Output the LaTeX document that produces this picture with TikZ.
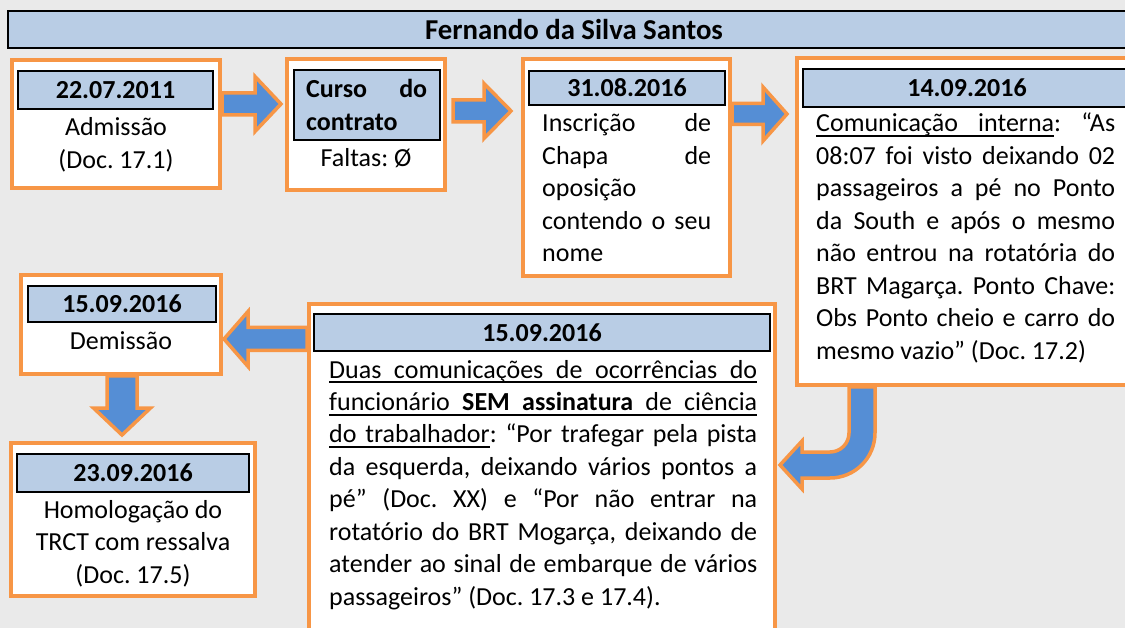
\documentclass[tikz,border=0pt]{standalone}
\usepackage{fontspec}
\setmainfont{Carlito}
\usetikzlibrary{calc}

\definecolor{fundo}{RGB}{234,234,234}
\definecolor{laranja}{RGB}{247,150,70}
\definecolor{azulclaro}{RGB}{185,205,229}
\definecolor{azulseta}{RGB}{85,142,213}

\newcommand{\corpo}{\fontsize{26}{32.5}\selectfont\frenchspacing}
\newcommand{\linha}[1]{\hbox to\hsize{#1}}
\newcommand{\linhasub}[1]{\hbox to\hsize{\rlap{\rule[-5pt]{\hsize}{1.6pt}}#1}}
% sublinhado de uma palavra e espaco sublinhado
\newcommand{\sub}[1]{\setbox0\hbox{#1}\rlap{\rule[-5pt]{\wd0}{1.6pt}}\box0}
\newcommand{\esp}{\leaders\hrule height -3.4pt depth 5pt\hskip\fontdimen2\font plus\fontdimen3\font minus\fontdimen4\font}

% seta horizontal: inicio, ponta, comprimento da ponta, meia haste, meia ponta
\newcommand{\setah}[5]{%
  \draw[seta] ($(#1)+(0,#4)$) -- ($(#2)+({-(#3)},#4)$) -- ($(#2)+({-(#3)},#5)$) -- (#2)
    -- ($(#2)+({-(#3)},{-(#5)})$) -- ($(#2)+({-(#3)},{-(#4)})$) -- ($(#1)+(0,{-(#4)})$) -- cycle;}
% seta vertical
\newcommand{\setav}[5]{%
  \draw[seta] ($(#1)+(#4,0)$) -- ($(#2)+(#4,{-(#3)})$) -- ($(#2)+(#5,{-(#3)})$) -- (#2)
    -- ($(#2)+({-(#5)},{-(#3)})$) -- ($(#2)+({-(#4)},{-(#3)})$) -- ($(#1)+({-(#4)},0)$) -- cycle;}

\tikzset{
  caixa/.style={draw=laranja, line width=4pt, fill=white, inner sep=0pt},
  cabecalho/.style={draw=black, line width=2pt, fill=azulclaro, inner sep=0pt, font=\corpo\bfseries},
  texto/.style={inner sep=0pt, anchor=base west},
  centrado/.style={inner sep=0pt, anchor=base},
  seta/.style={draw=laranja, line width=3.5pt, fill=azulseta, line join=miter},
}

\begin{document}
\begin{tikzpicture}[x=1pt, y=-1pt, font=\corpo]
  \useasboundingbox (0,0) rectangle (1125,628);
  \clip (0,0) rectangle (1125,628);
  \fill[fundo] (0,0) rectangle (1125,628);

  % Titulo
  \node[cabecalho, font=\fontsize{28.8}{34}\selectfont\bfseries, minimum width=1132pt, minimum height=37pt] (titulo) at (574,29.5) {Fernando da Silva Santos};

  % Caixa 1
  \node[caixa, minimum width=208pt, minimum height=128pt] (b1) at (116,124) {};
  \node[cabecalho, minimum width=195pt, minimum height=38pt] (h1) at (115.5,90) {22.07.2011};
  \node[centrado] (t1) at (116,136) {\parbox[t]{200pt}{\centering Admissão\\(Doc. 17.1)}};

  % Caixa 2
  \node[caixa, minimum width=158pt, minimum height=131pt] (b2) at (366,124.5) {};
  \node[cabecalho, minimum width=146pt, minimum height=70pt] (h2) at (367,105) {};
  \node[texto, font=\corpo\bfseries] (c2) at (306,98) {\parbox[t]{121pt}{\linha{Curso do}\hbox{contrato}}};
  \node[centrado] (t2) at (366,167) {Faltas: Ø};

  % Caixa 3
  \node[caixa, minimum width=207pt, minimum height=217pt] (b3) at (626.5,167.5) {};
  \node[cabecalho, minimum width=196pt, minimum height=34pt] (h3) at (627,88) {31.08.2016};
  \node[texto] (t3) at (542,132) {\parbox[t]{169pt}{%
    \linha{Inscrição de}
    \linha{Chapa de}
    \hbox{oposição}
    \linha{contendo o seu}
    \hbox{nome}}};

  % Caixa 4
  \node[caixa, minimum width=343pt, minimum height=327pt] (b4) at (968.5,221.5) {};
  \node[cabecalho, minimum width=328pt, minimum height=38pt] (h4) at (967,88) {14.09.2016};
  \node[texto] (t4) at (816,132) {\parbox[t]{299pt}{%
    \linha{\sub{Comunicação}\esp\sub{interna}: “As}
    \linha{08:07 foi visto deixando 02}
    \linha{passageiros a pé no Ponto}
    \linha{da South e após o mesmo}
    \linha{não entrou na rotatória do}
    \linha{BRT Magarça. Ponto Chave:}
    \linha{Obs Ponto cheio e carro do}
    \hbox{mesmo vazio” (Doc. 17.2)}}};

  % Caixa 5
  \node[caixa, minimum width=466pt, minimum height=344pt] (b5) at (542,476) {};
  \node[cabecalho, minimum width=456pt, minimum height=37pt] (h5) at (542,332.5) {15.09.2016};
  \node[texto] (t5) at (329,378) {\parbox[t]{428pt}{%
    \linhasub{Duas comunicações de ocorrências do}
    \linhasub{funcionário \textbf{SEM assinatura} de ciência}
    \linha{\sub{do}\esp\sub{trabalhador}: “Por trafegar pela pista}
    \linha{da esquerda, deixando vários pontos a}
    \linha{pé” (Doc. XX) e “Por não entrar na}
    \linha{rotatório do BRT Mogarça, deixando de}
    \linha{atender ao sinal de embarque de vários}
    \hbox{passageiros” (Doc. 17.3 e 17.4).}}};

  % Caixa 6
  \node[caixa, minimum width=200pt, minimum height=99pt] (b6) at (121,324.5) {};
  \node[cabecalho, minimum width=188pt, minimum height=36pt] (h6) at (122,304) {15.09.2016};
  \node[centrado] (t6) at (121,350) {Demissão};

  % Caixa 7
  \node[caixa, minimum width=244pt, minimum height=153pt] (b7) at (133,519.5) {};
  \node[cabecalho, minimum width=232pt, minimum height=38pt] (h7) at (133,473) {23.09.2016};
  \node[centrado] (t7) at (133,518) {\parbox[t]{230pt}{\centering Homologação do\\TRCT com ressalva\\(Doc. 17.5)}};

  % Setas
  \coordinate (s1a) at (b1.east |- 0,104);
  \coordinate (s1b) at (281,104);
  \setah{s1a}{s1b}{26}{11}{27.5}
  \coordinate (s2a) at ($(b2.east |- 0,111)+(6,0)$);
  \coordinate (s2b) at (511,111);
  \setah{s2a}{s2b}{27}{11}{27.5}
  \coordinate (s3a) at (b3.east |- 0,114);
  \coordinate (s3b) at (787,114);
  \setah{s3a}{s3b}{24}{10.5}{27}
  \coordinate (s4a) at (b5.west |- 0,339);
  \coordinate (s4b) at (224,339);
  \setah{s4a}{s4b}{-24}{11.5}{27.5}
  \coordinate (s6a) at (b6.south -| 122,0);
  \coordinate (s6b) at (122,435);
  \setav{s6a}{s6b}{27}{15}{28.5}

  % Seta curva
  \coordinate (s5a) at (b4.south -| 862,0);
  \coordinate (s5b) at (780,465);
  \draw[seta] ($(s5a)+(-13,0)$) -- (849,433) .. controls (849,443.5) and (840.5,452) .. (830,452)
    -- (802,452) -- (802,441) -- (s5b) -- (802,489) -- (802,478) -- (830,478)
    .. controls (854.9,478) and (875,457.9) .. (875,433) -- ($(s5a)+(13,0)$) -- cycle;
\end{tikzpicture}
\end{document}
